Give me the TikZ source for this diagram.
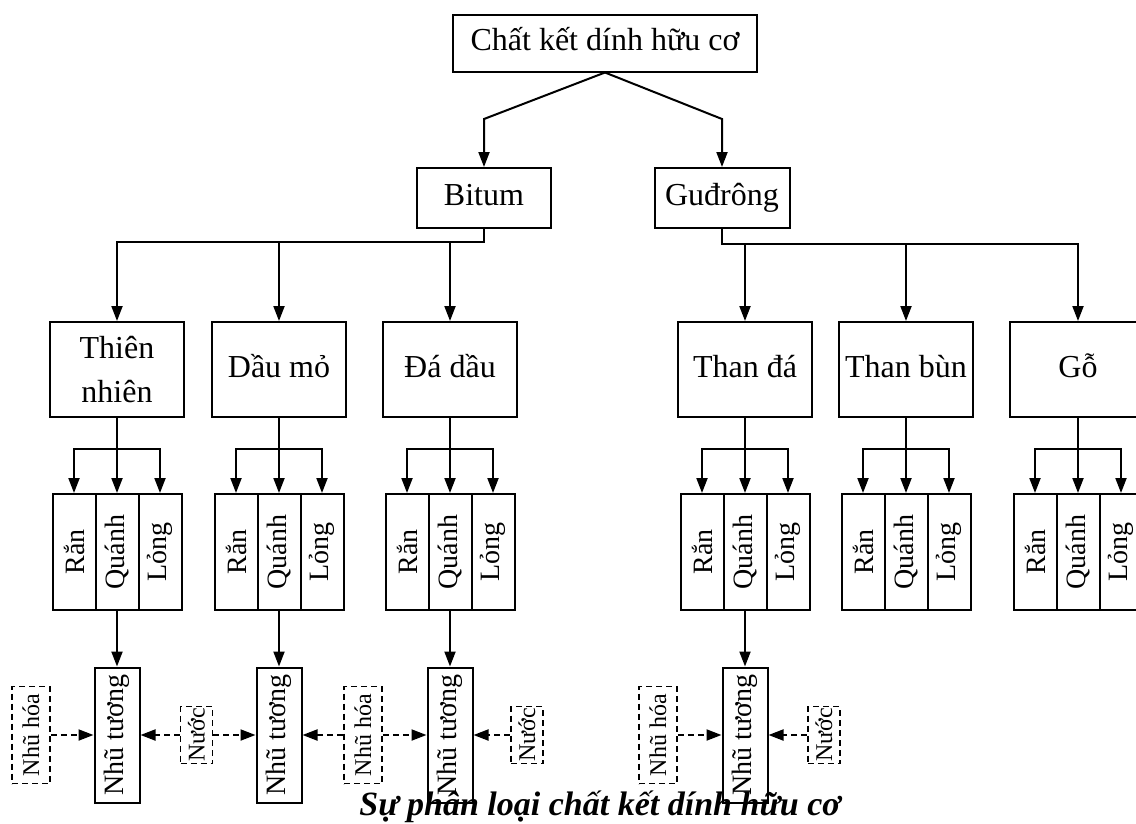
\documentclass[tikz,border=0pt]{standalone}
\usepackage{fontspec}
\setmainfont{Liberation Serif}
\usepackage{graphicx}
\usetikzlibrary{arrows.meta}

\tikzset{
  box/.style={draw, line width=2pt, inner sep=0pt, align=center,
    font=\fontsize{32}{44}\selectfont},
  oneline/.style={text height=22pt, text depth=7pt},
  cell/.style={draw, line width=2pt, inner sep=0pt, minimum width=43pt,
    minimum height=116pt, font=\fontsize{28}{32}\selectfont},
  emul/.style={draw, line width=2pt, inner sep=0pt, minimum width=45pt,
    minimum height=135pt, font=\fontsize{28}{32}\selectfont},
  aux/.style={draw, dash pattern=on 6pt off 4pt, line width=1.6pt,
    inner sep=0pt, font=\fontsize{24}{28}\selectfont},
  arr/.style={-{Triangle[length=15pt,width=11pt]}, line width=2pt},
  darr/.style={arr, dash pattern=on 6pt off 4pt},
}

\begin{document}
\begin{tikzpicture}[x=1pt, y=-1pt]
  \useasboundingbox (0,0) rectangle (1136,823);

  \node[box, oneline, minimum width=304pt, minimum height=57pt] (top) at (605,43) {Chất kết dính hữu cơ};
  \node[box, oneline, minimum width=134pt, minimum height=60pt] (bitum) at (484,198) {Bitum};
  \node[box, oneline, minimum width=135pt, minimum height=60pt] (gudrong) at (722,198) {Guđrông};

  \coordinate (tl) at (484,119);
  \coordinate (tr) at (722,119);
  \draw[arr] (top.south) -- (tl) -- (bitum.north);
  \draw[arr] (top.south) -- (tr) -- (gudrong.north);

  % nhom thu ba
  \node[box, minimum width=134pt, minimum height=95pt] (thien) at (117,369.5) {Thiên\\nhiên};
  \node[box, oneline, minimum width=134pt, minimum height=95pt] (dau) at (279,369.5) {Dầu mỏ};
  \node[box, oneline, minimum width=134pt, minimum height=95pt] (da) at (450,369.5) {Đá dầu};
  \node[box, oneline, minimum width=134pt, minimum height=95pt] (thanda) at (745,369.5) {Than đá};
  \node[box, oneline, minimum width=134pt, minimum height=95pt] (thanbun) at (906,369.5) {Than bùn};
  \node[box, oneline, minimum width=136pt, minimum height=95pt] (go) at (1078,369.5) {Gỗ};

  \coordinate (bj) at (483,242);
  \draw[arr] (bitum.south) |- (thien.north |- bj) -- (thien.north);
  \draw[arr] (dau.north |- bj) -- (dau.north);
  \draw[arr] (da.north |- bj) -- (da.north);

  \coordinate (gj) at (722,244);
  \draw[arr] (gudrong.south) |- (go.north |- gj) -- (go.north);
  \draw[arr] (thanda.north |- gj) -- (thanda.north);
  \draw[arr] (thanbun.north |- gj) -- (thanbun.north);

  % ran / quanh / long
  \foreach \p/\x in {thien/117, dau/279, da/450, thanda/745, thanbun/906, go/1078} {
    \node[cell] (\p r) at (\x-43,552) {\rotatebox{90}{Rắn}};
    \node[cell] (\p q) at (\x,552) {\rotatebox{90}{Quánh}};
    \node[cell] (\p l) at (\x+43,552) {\rotatebox{90}{Lỏng}};
    \draw[line width=2pt] (\p.south) -- ++(0,31) coordinate (\p j);
    \draw[arr] (\p j) -- (\p q.north);
    \draw[arr] (\p j) -| (\p r.north);
    \draw[arr] (\p j) -| (\p l.north);
  }

  % nhu tuong
  \node[emul] (nt1) at (117,735) {\rotatebox{90}{Nhũ tương}};
  \node[emul] (nt2) at (279,735) {\rotatebox{90}{Nhũ tương}};
  \node[emul] (nt3) at (450,735) {\rotatebox{90}{Nhũ tương}};
  \node[emul] (nt4) at (745,735) {\rotatebox{90}{Nhũ tương}};
  \draw[arr] (thienq.south) -- (nt1.north);
  \draw[arr] (dauq.south) -- (nt2.north);
  \draw[arr] (daq.south) -- (nt3.north);
  \draw[arr] (thandaq.south) -- (nt4.north);

  \node[aux, minimum width=38pt, minimum height=97pt] (hoa1) at (31,735) {\rotatebox{90}{Nhũ hóa}};
  \node[aux, minimum width=38pt, minimum height=97pt] (hoa2) at (363,735) {\rotatebox{90}{Nhũ hóa}};
  \node[aux, minimum width=38pt, minimum height=97pt] (hoa3) at (658,735) {\rotatebox{90}{Nhũ hóa}};
  \node[aux, minimum width=32pt, minimum height=57pt] (nuoc1) at (196.5,735) {\rotatebox{90}{Nước}};
  \node[aux, minimum width=32pt, minimum height=57pt] (nuoc2) at (527,735) {\rotatebox{90}{Nước}};
  \node[aux, minimum width=32pt, minimum height=57pt] (nuoc3) at (824,735) {\rotatebox{90}{Nước}};

  \draw[darr] (hoa1.east) -- (nt1.west);
  \draw[darr] (nuoc1.west) -- (nt1.east);
  \draw[darr] (nuoc1.east) -- (nt2.west);
  \draw[darr] (hoa2.west) -- (nt2.east);
  \draw[darr] (hoa2.east) -- (nt3.west);
  \draw[darr] (nuoc2.west) -- (nt3.east);
  \draw[darr] (hoa3.east) -- (nt4.west);
  \draw[darr] (nuoc3.west) -- (nt4.east);

  \node[anchor=base, font=\fontsize{34}{40}\selectfont\bfseries\itshape] (caption) at (600,815)
    {Sự phân loại chất kết dính hữu cơ};
\end{tikzpicture}
\end{document}
